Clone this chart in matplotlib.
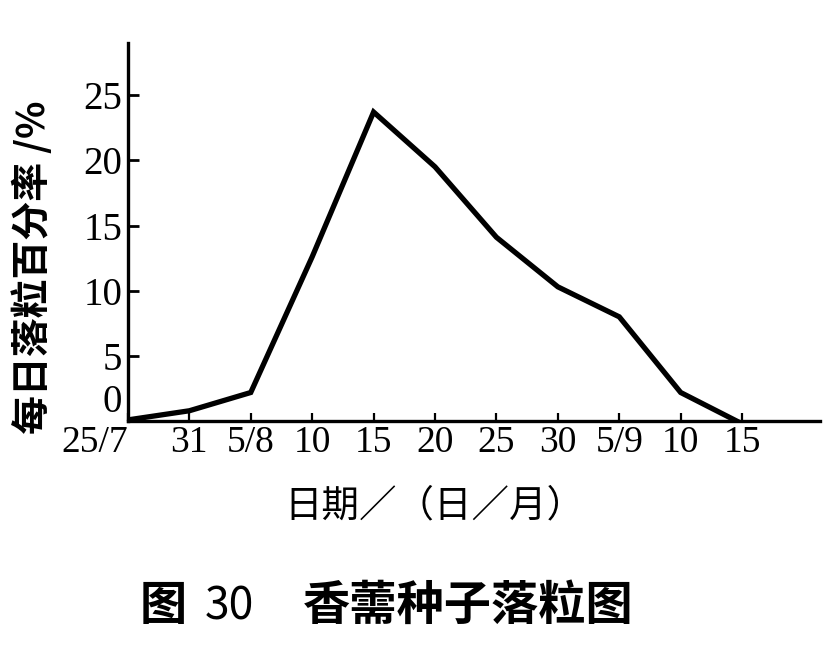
import matplotlib.pyplot as plt

# Daily seed-fall percentage
dates = ['25/7', '31', '5/8', '10', '15', '20', '25', '30', '5/9', '10', '15']
fall_pct = [0.1, 0.8, 2.2, 12.6, 23.7, 19.5, 14.1, 10.3, 8.0, 2.2, -0.2]
y_ticks = [0, 5, 10, 15, 20, 25]

serif = ['Liberation Serif', 'DejaVu Serif']
cjk = ['Noto Sans CJK SC', 'DejaVu Sans']

fig = plt.figure(figsize=(8.36, 6.5), dpi=100)
ax = fig.add_axes([0.153, 0.352, 0.828, 0.582])

x = list(range(len(dates)))
ax.plot(x, fall_pct, color='black', lw=3.8, solid_joinstyle='miter')

ax.set_xlim(0, 11.27)
ax.set_ylim(0, 29)
ax.set_xticks(x)
ax.set_xticklabels(dates, family=serif, fontsize=27)
ax.set_yticks(y_ticks)
ax.set_yticklabels([str(v) for v in y_ticks], family=serif, fontsize=28)

for s in ['top', 'right']:
    ax.spines[s].set_visible(False)
for s in ['left', 'bottom']:
    ax.spines[s].set_linewidth(2.4)

ax.tick_params(axis='y', direction='in', length=8, width=2, pad=4)
ax.tick_params(axis='x', direction='in', length=6, width=1.6, pad=3)

# the "0" sits just above the axis in the original, and 25/7 hangs left of the origin
ax.get_yticklabels()[0].set_verticalalignment('bottom')
ax.yaxis.get_major_ticks()[0].tick1line.set_visible(False)
ax.get_xticklabels()[0].set_horizontalalignment('right')

fig.text(33 / 836, 1 - 267 / 650, '每日落粒百分率 /%', rotation=90, ha='center', va='center',
         family=cjk, fontsize=28, fontweight='bold')
fig.text(434 / 836, 1 - 506 / 650, '日期／（日／月）', ha='center', va='center',
         family=cjk, fontsize=27)

cap_y = 1 - 606 / 650
fig.text(140 / 836, cap_y, '图', ha='left', va='center', family=cjk, fontsize=34, fontweight='bold')
fig.text(205 / 836, cap_y, '30', ha='left', va='center', family=cjk, fontsize=32)
fig.text(303 / 836, cap_y, '香薷种子落粒图', ha='left', va='center', family=cjk, fontsize=34, fontweight='bold')

fig.savefig('out.png', dpi=100)
